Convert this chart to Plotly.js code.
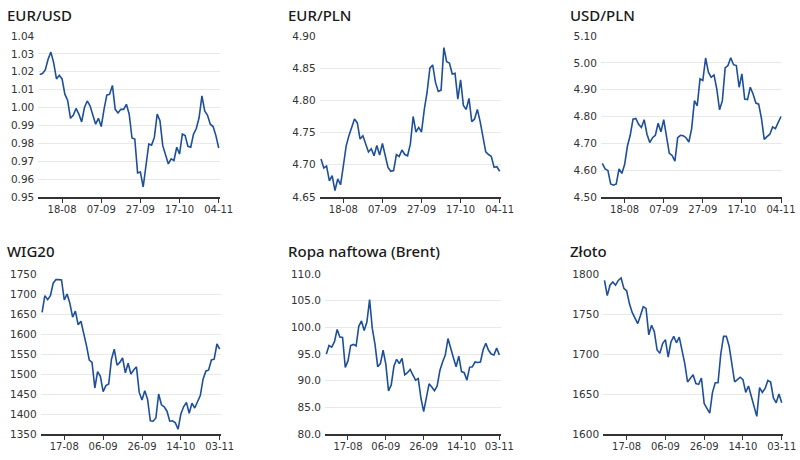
<!DOCTYPE html>
<html>
<head>
<meta charset="utf-8">
<script src="https://cdn.plot.ly/plotly-3.0.1.min.js"></script>
<style>html,body{margin:0;padding:0;background:#fff;}#chart{width:800px;height:460px;}</style>
</head>
<body>
<div id="chart"></div>
<script>
// Trading days (top row ends 04-11, bottom row ends 03-11)
const datesTop = ["08-08","09-08","10-08","11-08","12-08","15-08","16-08","17-08","18-08","19-08","22-08","23-08","24-08","25-08","26-08","29-08","30-08","31-08",
  "01-09","02-09","05-09","06-09","07-09","08-09","09-09","12-09","13-09","14-09","15-09","16-09","19-09","20-09","21-09","22-09","23-09","26-09","27-09","28-09","29-09","30-09",
  "03-10","04-10","05-10","06-10","07-10","10-10","11-10","12-10","13-10","14-10","17-10","18-10","19-10","20-10","21-10","24-10","25-10","26-10","27-10","28-10","31-10",
  "01-11","02-11","03-11","04-11"];
const datesBottom = ["05-08","08-08","09-08","10-08","11-08","12-08","15-08","16-08","17-08","18-08","19-08","22-08","23-08","24-08","25-08","26-08","29-08","30-08","31-08",
  "01-09","02-09","05-09","06-09","07-09","08-09","09-09","12-09","13-09","14-09","15-09","16-09","19-09","20-09","21-09","22-09","23-09","26-09","27-09","28-09","29-09","30-09",
  "03-10","04-10","05-10","06-10","07-10","10-10","11-10","12-10","13-10","14-10","17-10","18-10","19-10","20-10","21-10","24-10","25-10","26-10","27-10","28-10","31-10",
  "01-11","02-11","03-11"];
const ticksTop = ["18-08","07-09","27-09","17-10","04-11"];
const ticksBottom = ["17-08","06-09","26-09","14-10","03-11"];

const titles = ["EUR/USD","EUR/PLN","USD/PLN","WIG20","Ropa naftowa (Brent)","Złoto"];

const eurusd = [1.0185,1.019,1.021,1.027,1.031,1.025,1.016,1.018,1.016,1.0075,
  1.004,0.994,0.9957,0.9995,0.9963,0.992,1.000,1.0037,1.001,0.9963,
  0.9907,0.994,0.9894,0.999,1.0069,1.0075,1.0124,0.999,0.997,0.999,
  0.999,1.0018,0.9963,0.983,0.9824,0.9635,0.964,0.9556,0.9676,0.9796,
  0.979,0.9833,0.9963,0.9926,0.9787,0.974,0.9685,0.9713,0.9704,0.9778,
  0.974,0.9852,0.9843,0.9783,0.9778,0.9852,0.9883,0.9944,1.0065,0.9981,
  0.9957,0.9907,0.9894,0.9843,0.9774];
const eurpln = [4.709,4.695,4.698,4.675,4.683,4.660,4.678,4.669,4.698,4.729,
  4.745,4.758,4.771,4.765,4.740,4.745,4.732,4.720,4.725,4.714,
  4.730,4.715,4.733,4.714,4.696,4.690,4.691,4.716,4.713,4.723,
  4.716,4.714,4.732,4.775,4.751,4.758,4.751,4.786,4.813,4.850,
  4.855,4.828,4.814,4.816,4.882,4.860,4.858,4.841,4.842,4.802,
  4.832,4.792,4.786,4.803,4.767,4.771,4.786,4.767,4.745,4.720,
  4.716,4.713,4.696,4.697,4.690];
const usdpln = [4.625,4.605,4.599,4.549,4.544,4.549,4.605,4.588,4.621,4.690,
  4.730,4.790,4.793,4.771,4.759,4.788,4.734,4.703,4.721,4.730,
  4.775,4.743,4.788,4.721,4.663,4.655,4.634,4.721,4.730,4.728,
  4.721,4.705,4.755,4.859,4.840,4.940,4.934,5.018,4.965,4.946,
  4.955,4.903,4.825,4.859,4.981,4.990,5.019,4.993,4.990,4.909,
  4.959,4.865,4.863,4.909,4.884,4.850,4.846,4.793,4.715,4.725,
  4.734,4.761,4.755,4.778,4.800];
const wig20 = [1654,1696,1686,1696,1727,1736,1736,1735,1685,1700,
  1677,1642,1657,1623,1632,1604,1571,1535,1529,1465,
  1506,1494,1456,1471,1475,1537,1562,1522,1529,1540,
  1503,1527,1500,1510,1518,1454,1435,1458,1437,1383,
  1382,1390,1450,1423,1418,1407,1382,1383,1378,1362,
  1400,1418,1429,1402,1427,1415,1433,1446,1487,1507,
  1510,1535,1537,1575,1562];
const brent = [95.0,96.6,96.3,97.3,99.6,98.2,98.1,92.5,93.7,96.6,
  96.8,96.5,100.2,101.2,99.4,101.0,105.2,99.8,96.8,92.6,
  93.2,95.7,93.1,88.1,89.2,92.7,94.0,93.2,94.2,91.1,
  91.5,92.1,91.1,90.1,90.4,86.7,84.2,87.0,89.4,88.8,
  88.1,89.0,91.9,93.5,94.8,97.9,96.3,94.3,92.6,94.6,
  91.7,91.5,90.1,92.5,92.6,93.5,93.4,93.5,95.8,97.0,
  95.7,95.0,94.8,96.1,94.8];
const gold = [1792,1773,1786,1790,1786,1792,1795,1782,1779,1763,
  1752,1745,1738,1748,1759,1757,1724,1736,1728,1705,
  1701,1713,1718,1696,1715,1722,1714,1721,1705,1688,
  1665,1670,1674,1663,1662,1670,1638,1632,1626,1652,
  1664,1664,1700,1722,1722,1710,1686,1665,1668,1671,
  1668,1652,1660,1648,1634,1622,1658,1652,1657,1667,
  1665,1645,1639,1650,1639];

const W = 800, H = 460;
const LINE = "#1d4f9a";
const series = [eurusd, eurpln, usdpln, wig20, brent, gold];
// panel geometry in pixels
const panels = [
  {x0:38.3, x1:220.1, top:36, bot:197, range:[0.95,1.04], dtick:0.01, fmt:".2f", tx:5, ty:15},
  {x0:319.6, x1:501.1, top:36, bot:197, range:[4.65,4.90], dtick:0.05, fmt:".2f", tx:286, ty:15},
  {x0:600.9, x1:782.4, top:36, bot:197, range:[4.50,5.10], dtick:0.1, fmt:".2f", tx:567.5, ty:15},
  {x0:40.7, x1:221.1, top:274, bot:434, range:[1350,1750], dtick:50, fmt:"d", tx:5, ty:251},
  {x0:325.0, x1:500.7, top:274, bot:434, range:[80,110], dtick:5, fmt:".1f", tx:286, ty:251},
  {x0:603.1, x1:783.1, top:274, bot:434, range:[1600,1800], dtick:50, fmt:"d", tx:567.5, ty:251}
];

const data = [];
const layout = {
  width: W, height: H,
  margin: {l:0, r:0, t:0, b:0},
  paper_bgcolor: "#ffffff", plot_bgcolor: "#ffffff",
  showlegend: false,
  font: {family: "DejaVu Sans, sans-serif", size: 10, color: "#333333"},
  annotations: []
};

panels.forEach((p, i) => {
  const n = i + 1;
  const xa = "xaxis" + (n === 1 ? "" : n);
  const ya = "yaxis" + (n === 1 ? "" : n);
  const top = i < 3;
  data.push({
    type: "scatter", mode: "lines",
    x: top ? datesTop : datesBottom,
    y: series[i],
    xaxis: "x" + (n === 1 ? "" : n), yaxis: "y" + (n === 1 ? "" : n),
    line: {color: LINE, width: 1.6},
    hoverinfo: "skip"
  });
  layout[xa] = {
    type: "category",
    domain: [p.x0 / W, p.x1 / W],
    anchor: "y" + (n === 1 ? "" : n),
    range: [-0.5, 64.5],
    tickmode: "array",
    tickvals: top ? ticksTop : ticksBottom,
    ticktext: top ? ticksTop : ticksBottom,
    ticks: "outside", ticklen: 4, tickwidth: 1, tickcolor: "#333333",
    ticklabelstandoff: -2,
    showline: true, linecolor: "#333333", linewidth: 2,
    showgrid: false, zeroline: false,
    tickfont: {family: "DejaVu Sans, sans-serif", size: 10, color: "#333333"},
    fixedrange: true
  };
  layout[ya] = {
    domain: [1 - p.bot / H, 1 - p.top / H],
    anchor: "x" + (n === 1 ? "" : n),
    range: p.range,
    tick0: p.range[0], dtick: p.dtick,
    tickformat: p.fmt,
    showgrid: true, gridcolor: "#e9e9e9", gridwidth: 1,
    zeroline: false, showline: false, ticks: "",
    ticklabelstandoff: 3,
    tickfont: {family: "DejaVu Sans, sans-serif", size: 10.5, color: "#333333"},
    fixedrange: true
  };
  layout.annotations.push({
    text: titles[i],
    xref: "paper", yref: "paper",
    x: p.tx / W, y: 1 - p.ty / H,
    xanchor: "left", yanchor: "middle",
    showarrow: false,
    font: {family: "Noto Sans, sans-serif", size: 15, color: "#1a1a1a", weight: 500}
  });
});

Plotly.newPlot("chart", data, layout, {staticPlot: true, displayModeBar: false});
</script>
</body>
</html>
